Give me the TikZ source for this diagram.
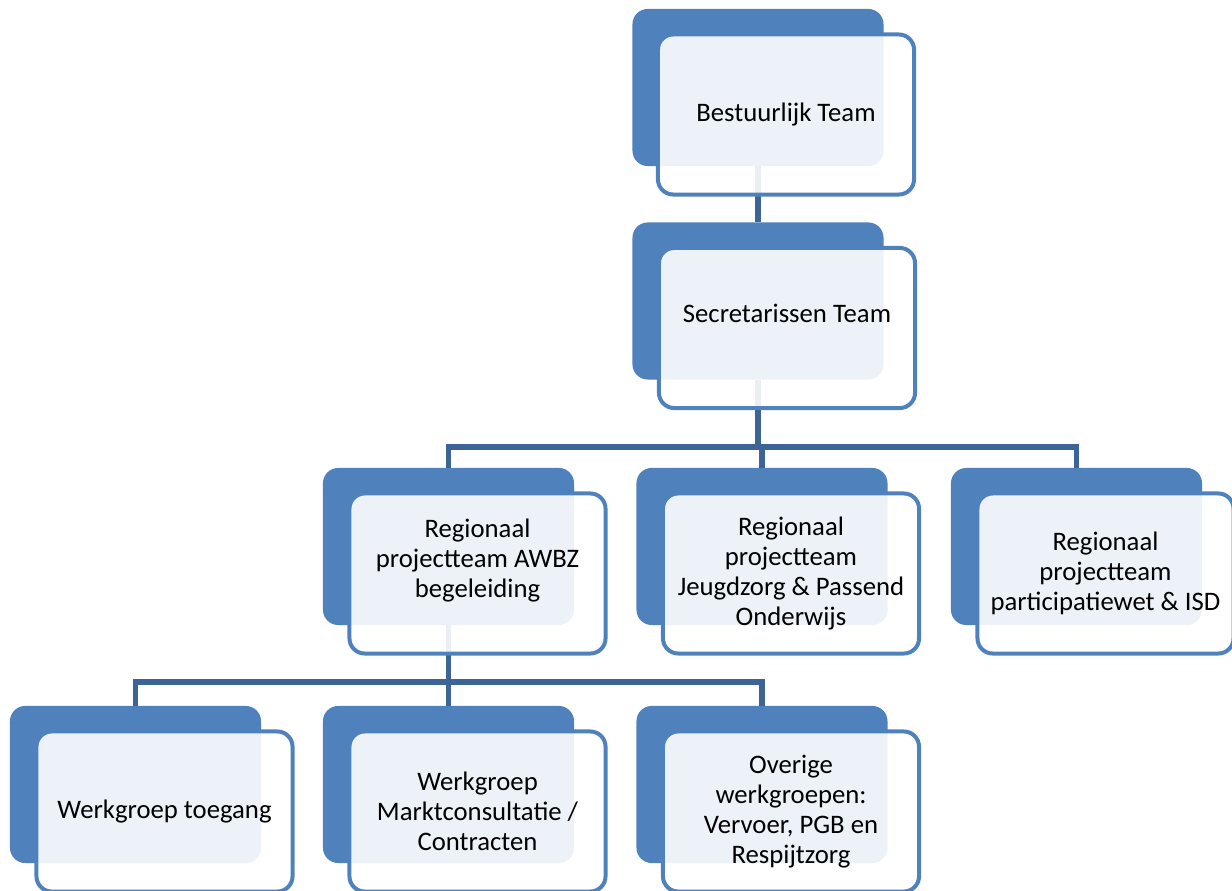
\documentclass[tikz,border=0pt]{standalone}
\usepackage{fontspec}
\setmainfont{Carlito}
\usetikzlibrary{calc}
\definecolor{boxblue}{HTML}{4F81BD}
\definecolor{linkblue}{HTML}{3C6496}
\tikzset{
	backbox/.style={fill=boxblue,rounded corners=0.38cm,minimum width=6.275cm,minimum height=3.925cm,inner sep=0pt},
	frontbox/.style={draw=boxblue,line width=0.1cm,fill=white,fill opacity=0.9,text opacity=1,rounded corners=0.38cm,minimum width=6.4cm,minimum height=4cm,inner sep=0pt,align=center,font=\fontsize{19}{21.5}\selectfont},
	link/.style={draw=linkblue,line width=0.14cm}
}
\begin{document}
\begin{tikzpicture}[x=0.025cm,y=-0.025cm]
				\useasboundingbox (0,0) rectangle (1232,891);
				\node[backbox] (bt-b) at (758,87.5) {};
				\node[backbox] (st-b) at (758,301) {};
				\node[backbox] (awbz-b) at (448.5,546.5) {};
				\node[backbox] (jz-b) at (762,546.5) {};
				\node[backbox] (pw-b) at (1076.5,546.5) {};
				\node[backbox] (wt-b) at (135.5,784.5) {};
				\node[backbox] (mc-b) at (448.5,784.5) {};
				\node[backbox] (ow-b) at (762,784.5) {};

				\coordinate (bus1) at (0,447);
				\coordinate (bus2) at (0,682);
				\draw[link] (bt-b.south)--(st-b.north);
				\draw[link] (st-b.south)--(st-b.south |- bus1);
				\draw[link] (awbz-b.north)--(awbz-b.north |- bus1)--(pw-b.north |- bus1)--(pw-b.north);
				\draw[link] (jz-b.north)--(jz-b.north |- bus1);
				\draw[link] (awbz-b.south)--(awbz-b.south |- bus2);
				\draw[link] (wt-b.north)--(wt-b.north |- bus2)--(ow-b.north |- bus2)--(ow-b.north);
				\draw[link] (mc-b.north)--(mc-b.north |- bus2);

				\node[frontbox] (bt) at ($(bt-b)+(28,27)$) {Bestuurlijk Team};
				\node[frontbox] (st) at ($(st-b)+(29,27)$) {Secretarissen Team\\~};
				\node[frontbox] (awbz) at ($(awbz-b)+(29,27)$) {Regionaal\\projectteam AWBZ\\begeleiding\\~};
				\node[frontbox] (jz) at ($(jz-b)+(29,27)$) {Regionaal\\projectteam\\Jeugdzorg \& Passend\\Onderwijs};
				\node[frontbox] (pw) at ($(pw-b)+(29,27)$) {Regionaal\\projectteam\\participatiewet \& ISD};
				\node[frontbox] (wt) at ($(wt-b)+(29,27)$) {Werkgroep toegang};
				\node[frontbox] (mc) at ($(mc-b)+(29,27)$) {Werkgroep\\Marktconsultatie /\\Contracten};
				\node[frontbox] (ow) at ($(ow-b)+(29,27)$) {Overige\\werkgroepen:\\Vervoer, PGB en\\Respijtzorg};
\end{tikzpicture}
\end{document}
